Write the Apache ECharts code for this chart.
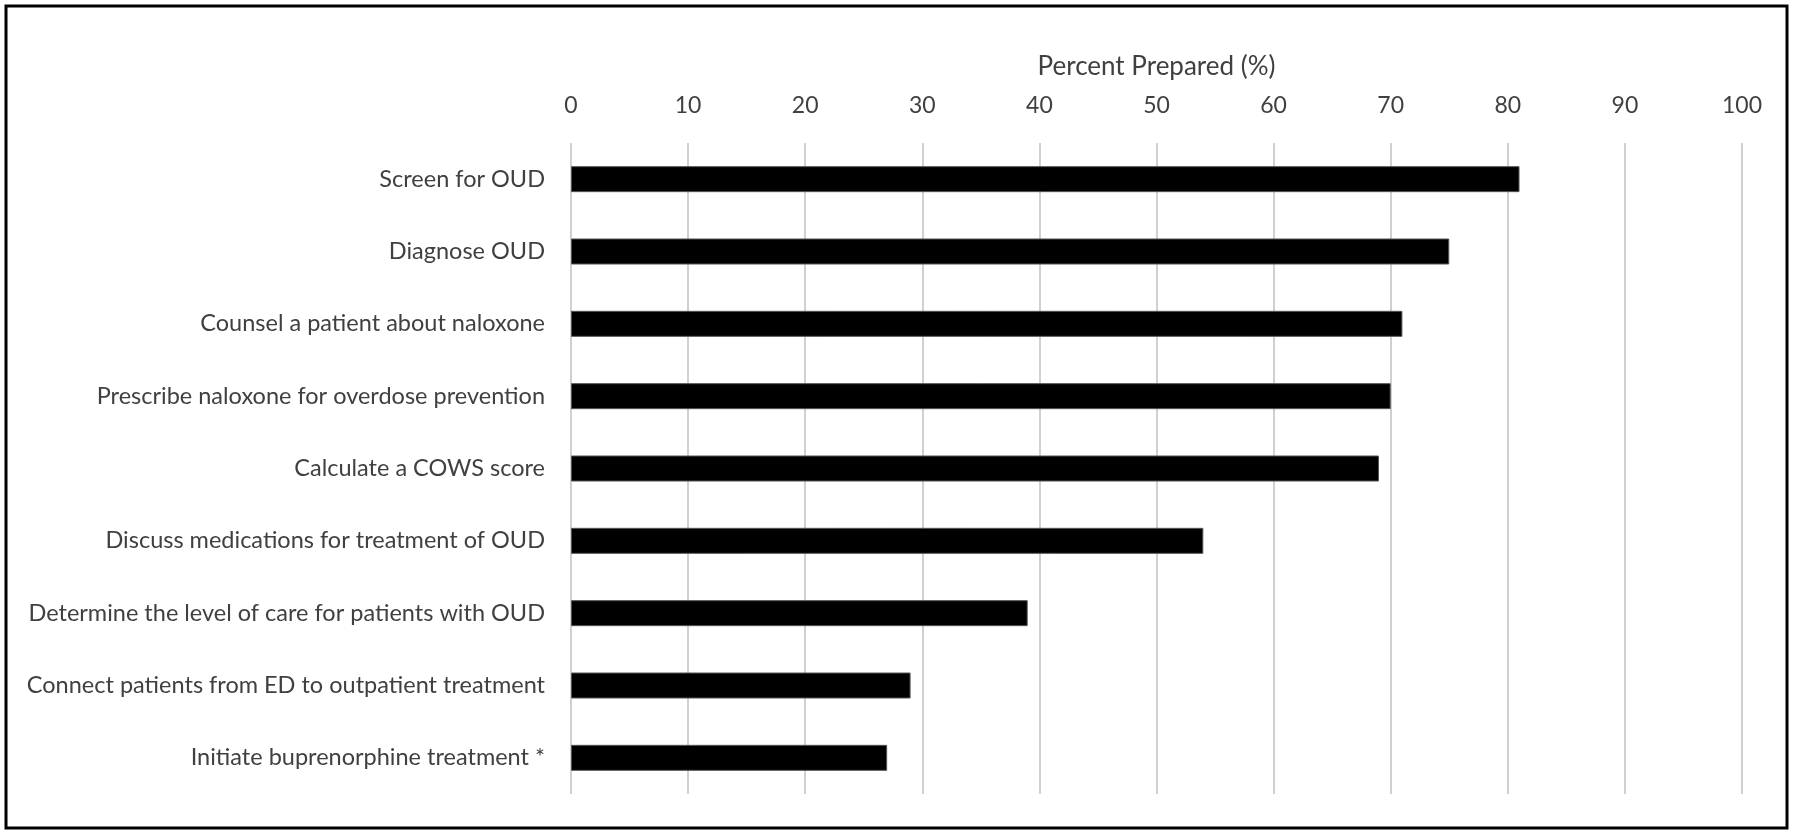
<!DOCTYPE html>
<html>
<head>
    <meta charset="utf-8">
    <title>Percent Prepared</title>
    <script src="https://cdn.jsdelivr.net/npm/echarts@6/dist/echarts.min.js"></script>
    <style>
        html, body { margin: 0; padding: 0; background: #fff; }
    </style>
</head>
<body>
    <div id="main" style="width: 1800px;height:835px;"></div>
    <script type="text/javascript">
        var categories = [
            'Screen for OUD',
            'Diagnose OUD',
            'Counsel a patient about naloxone',
            'Prescribe naloxone for overdose prevention',
            'Calculate a COWS score',
            'Discuss medications for treatment of OUD',
            'Determine the level of care for patients with OUD',
            'Connect patients from ED to outpatient treatment',
            'Initiate buprenorphine treatment *'
        ];
        var percentPrepared = [81, 75, 71, 70, 69, 54, 39, 29, 27];
        var axisTitle = 'Percent Prepared (%)';

        var chartDom = document.getElementById('main');
        var myChart = echarts.init(chartDom);
        var option;

        var textFont = 'Lato';

        option = {
            animation: false,
            backgroundColor: '#fff',
            graphic: [{
                type: 'rect',
                shape: { x: 6, y: 6, width: 1781, height: 822 },
                style: { fill: 'none', stroke: '#000', lineWidth: 3 },
                z: 100
            }],
            grid: {
                left: 571,
                right: 58,
                top: 143,
                bottom: 41
            },
            xAxis: {
                type: 'value',
                position: 'top',
                min: 0,
                max: 100,
                interval: 10,
                name: axisTitle,
                nameLocation: 'middle',
                nameMoveOverlap: false,
                nameGap: 76,
                nameTextStyle: {
                    color: '#404040',
                    fontFamily: textFont,
                    fontSize: 26,
                    verticalAlign: 'middle'
                },
                axisLine: { show: false },
                axisTick: { show: false },
                axisLabel: {
                    color: '#404040',
                    fontFamily: textFont,
                    fontSize: 23,
                    margin: 26
                },
                splitLine: {
                    show: true,
                    lineStyle: { color: '#d0d0d0', width: 2 }
                }
            },
            yAxis: {
                type: 'category',
                inverse: true,
                data: categories,
                axisLine: { show: false },
                axisTick: { show: false },
                axisLabel: {
                    color: '#404040',
                    fontFamily: textFont,
                    fontSize: 23.5,
                    margin: 26
                }
            },
            series: [{
                type: 'bar',
                name: axisTitle,
                data: percentPrepared,
                barWidth: 26,
                itemStyle: {
                    color: '#000',
                    borderColor: '#555',
                    borderWidth: 1
                }
            }]
        };

        option && myChart.setOption(option);
    </script>
</body>
</html>
